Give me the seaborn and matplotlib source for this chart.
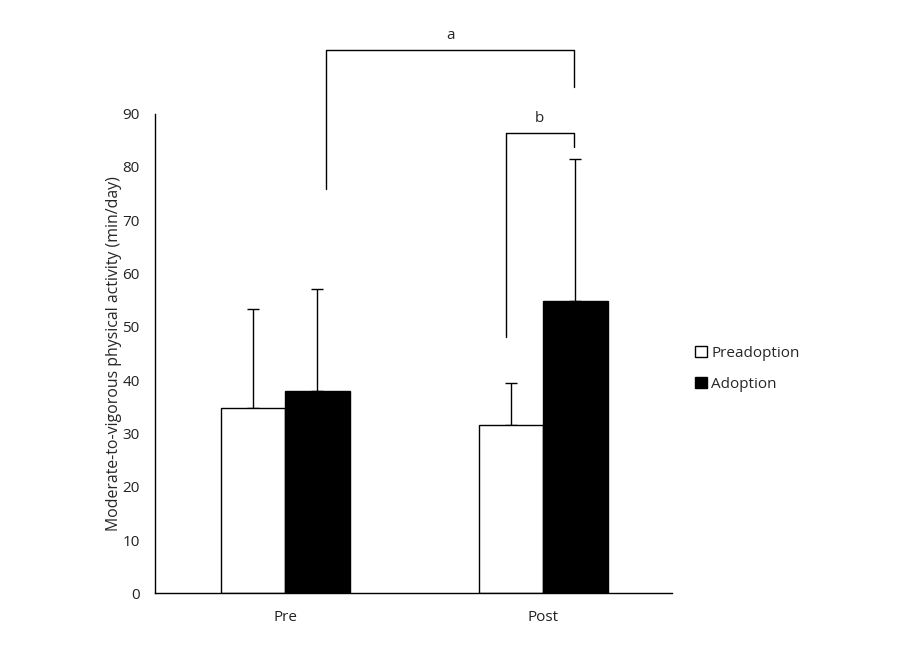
import pandas as pd
import matplotlib
matplotlib.use('Agg')
from matplotlib import pyplot as plt
from matplotlib.patches import Patch
import seaborn as sns

# values
periods = ['Pre', 'Post']
groups = ['Preadoption', 'Adoption']
preadoption_mean = [34.7, 31.5]
adoption_mean = [37.9, 54.8]
preadoption_sd = [18.6, 7.9]
adoption_sd = [19.1, 26.7]

# significance brackets: (x_left, x_right), (y_left, y_top, y_right), label
bracket_x = [(0.16, 1.12), (0.855, 1.12)]
bracket_y = [(75.8, 102.0, 95.0), (48.0, 86.3, 83.7)]
bracket_labels = ['a', 'b']

df = pd.DataFrame({
    'period': periods * 2,
    'group': [groups[0]] * 2 + [groups[1]] * 2,
    'mvpa': preadoption_mean + adoption_mean,
})

sns.set_style('white')
plt.rcParams['font.family'] = ['Open Sans', 'DejaVu Sans']
fs = 11

fig = plt.figure(figsize=(9, 6.6), dpi=100)
ax = fig.add_axes([0.1722, 0.101, 0.5745, 0.727])

sns.barplot(data=df, x='period', y='mvpa', hue='group', order=periods, hue_order=groups,
            palette=['white', 'black'], edgecolor='black', linewidth=1.0,
            width=0.5, errorbar=None, legend=False, ax=ax)

# one-sided (upper) error bars
for container, sds in zip(ax.containers, [preadoption_sd, adoption_sd]):
    xs = [bar.get_x() + bar.get_width() / 2 for bar in container]
    hs = [bar.get_height() for bar in container]
    ax.errorbar(xs, hs, yerr=[[0] * len(sds), sds], fmt='none', ecolor='black',
                elinewidth=1.0, capsize=4, capthick=1.0, zorder=0)

# brackets above the bars
for (x0, x1), (yl, yt, yr), lab in zip(bracket_x, bracket_y, bracket_labels):
    ax.plot([x0, x0, x1, x1], [yl, yt, yt, yr], color='black', lw=1.0, clip_on=False)
    ax.text((x0 + x1) / 2, yt + 1.3, lab, ha='center', va='bottom', fontsize=fs, clip_on=False)

ax.set_xlim(-0.505, 1.5)
ax.set_ylim(0, 90)
ax.set_yticks(range(0, 91, 10))
ax.tick_params(axis='both', length=0, labelsize=fs, colors='#222222')
ax.tick_params(axis='y', pad=11)
ax.tick_params(axis='x', pad=12)
ax.set_xlabel('')
ax.set_ylabel('Moderate-to-vigorous physical activity (min/day)', fontsize=11.4, labelpad=0)

for side in ['top', 'right']:
    ax.spines[side].set_visible(False)
ax.spines['left'].set_color('black')
ax.spines['bottom'].set_color('black')
ax.spines['left'].set_linewidth(1.0)
ax.spines['bottom'].set_linewidth(1.0)

handles = [Patch(facecolor='white', edgecolor='black', lw=1.0),
           Patch(facecolor='black', edgecolor='black', lw=1.0)]
ax.legend(handles, groups, loc='center left', bbox_to_anchor=(1.045, 0.468), frameon=False,
          fontsize=fs, handlelength=0.75, handleheight=0.75, handletextpad=0.3,
          labelspacing=1.05, borderaxespad=0, borderpad=0)

fig.savefig('out.png', dpi=100)
